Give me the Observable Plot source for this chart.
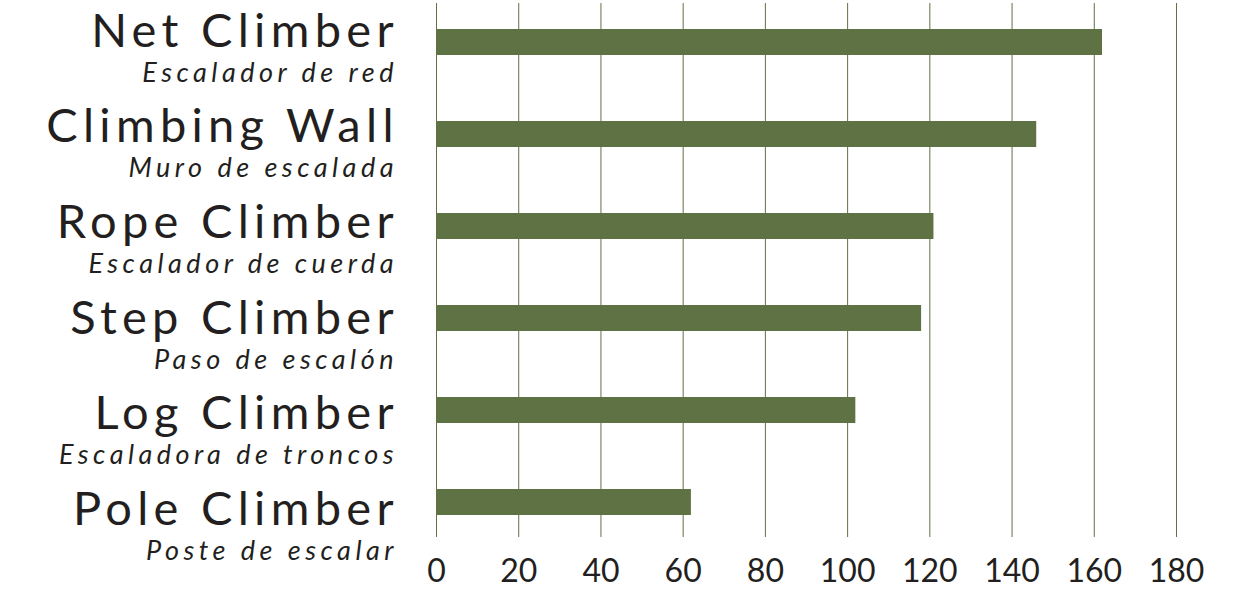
<!DOCTYPE html>
<html>
<head>
<meta charset="utf-8">
<script src="https://cdn.jsdelivr.net/npm/d3@7"></script>
<script src="https://cdn.jsdelivr.net/npm/@observablehq/plot@0.6"></script>
<style>
  html, body { margin: 0; padding: 0; background: #ffffff; }
  .main-label text { letter-spacing: 5.3px; }
  .sub-label text { letter-spacing: 4.5px; }
</style>
</head>
<body>
<div id="chart"></div>
<script>
const equipment = ["Net Climber", "Climbing Wall", "Rope Climber", "Step Climber", "Log Climber", "Pole Climber"];
const spanish = ["Escalador de red", "Muro de escalada", "Escalador de cuerda", "Paso de escalón", "Escaladora de troncos", "Poste de escalar"];
const counts = [162, 146, 121, 118, 102, 62];
const xTicks = [0, 20, 40, 60, 80, 100, 120, 140, 160, 180];

const data = equipment.map((name, i) => ({name, sub: spanish[i], value: counts[i]}));

const green = "#5f7244";
const ink = "#231f20";

// labels sit on a slightly wider pitch than the bars
const spread = (k) => (index, scales, values, dimensions, context, next) => {
  const y0 = d3.min(index, i => values.y[i]);
  const y = Array.from(values.y, v => y0 + (v - y0) * k);
  return next(index, scales, {...values, y}, dimensions, context);
};

const chart = Plot.plot({
  width: 1235,
  height: 594,
  marginLeft: 436,
  marginRight: 59,
  marginTop: 3,
  marginBottom: 57,
  style: {fontFamily: "Lato, sans-serif", color: ink, background: "#ffffff", overflow: "visible"},
  x: {domain: [0, 180], ticks: xTicks, label: null},
  y: {domain: equipment, range: [27, 517.6], paddingInner: 0.712, paddingOuter: 0, axis: null},
  marks: [
    Plot.gridX(xTicks, {stroke: green, strokeOpacity: 1, strokeWidth: 1}),
    Plot.barX(data, {x: "value", y: "name", fill: green}),
    Plot.axisX({ticks: xTicks, tickSize: 0, tickPadding: 22, fontSize: 32, label: null, fill: ink}),
    Plot.text(data, {
      y: "name", text: "name", frameAnchor: "left", textAnchor: "end",
      dx: -37.7, dy: -11, fontSize: 47, fill: ink, className: "main-label",
      render: spread(1.04)
    }),
    Plot.text(data, {
      y: "name", text: "sub", frameAnchor: "left", textAnchor: "end",
      dx: -38.5, dy: 30.5, fontSize: 27, fontStyle: "italic", fill: ink, className: "sub-label",
      render: spread(1.04)
    })
  ]
});
document.getElementById("chart").appendChild(chart);
</script>
</body>
</html>
